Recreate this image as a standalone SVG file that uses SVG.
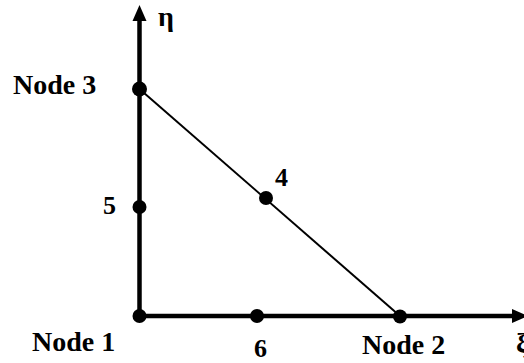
<svg xmlns="http://www.w3.org/2000/svg" width="524" height="363" viewBox="0 0 524 363">
<style>
.axis{stroke:#000;stroke-width:4.5;fill:none}
.edge{stroke:#000;stroke-width:2;fill:none}
.node{fill:#000}
.lbl{font-family:"Liberation Serif","Times New Roman",serif;font-weight:bold;font-size:28px;fill:#000}
.num{font-family:"Liberation Serif","Times New Roman",serif;font-weight:bold;font-size:26px;fill:#000}
</style>
<defs>
<marker id="arr" markerUnits="userSpaceOnUse" markerWidth="16" markerHeight="16" refX="15" refY="7" orient="auto" viewBox="0 0 16 14">
<path d="M0,0 L15,7 L0,14 Z" fill="#000"/>
</marker>
</defs>
<rect width="524" height="363" fill="#fff"/>
<g id="connectors">
<line class="axis" x1="139.5" y1="316" x2="139.5" y2="19"/>
<path d="M132.5,21 L139.5,5 L146.5,21 Z" fill="#000"/>
<line class="axis" x1="139.5" y1="316" x2="512" y2="316"/>
<path d="M512,309 L528,316 L512,323 Z" fill="#000"/>
<line class="edge" x1="139.5" y1="89" x2="400" y2="316"/>
</g>
<g id="axis-eta"><text class="lbl" x="158" y="26">η</text></g>
<g id="axis-xi"><text class="lbl" x="516" y="352">ξ</text></g>
<g id="node1"><circle class="node" cx="139.5" cy="316" r="7"/><text class="lbl" x="32" y="351">Node 1</text></g>
<g id="node2"><circle class="node" cx="400" cy="316.5" r="7"/><text class="lbl" x="362" y="354">Node 2</text></g>
<g id="node3"><circle class="node" cx="139.5" cy="89" r="7.5"/><text class="lbl" x="13" y="94">Node 3</text></g>
<g id="node4"><circle class="node" cx="266" cy="198" r="7"/><text class="num" x="275" y="186">4</text></g>
<g id="node5"><circle class="node" cx="139.5" cy="207" r="7"/><text class="num" x="103" y="214">5</text></g>
<g id="node6"><circle class="node" cx="257" cy="316" r="7"/><text class="num" x="254" y="357">6</text></g>
</svg>
